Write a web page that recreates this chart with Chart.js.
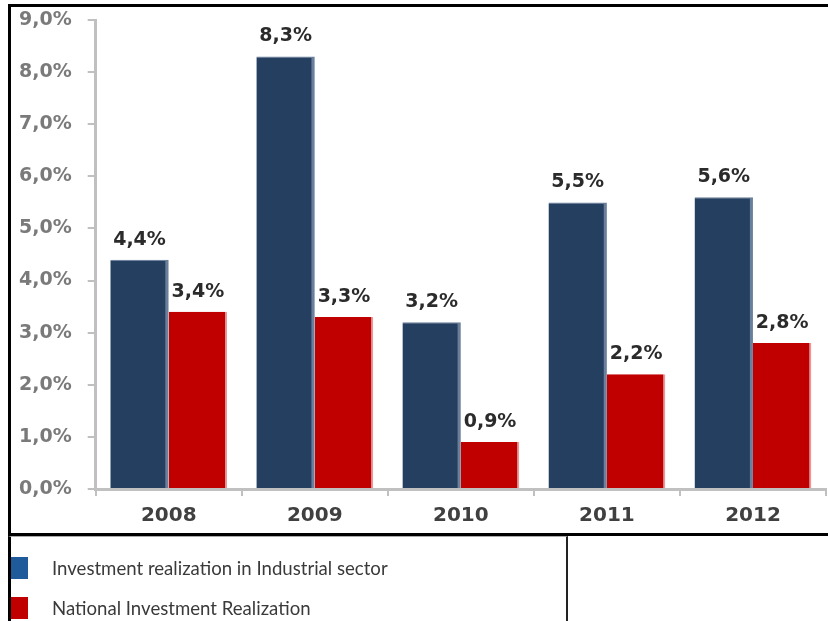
<!DOCTYPE html>
<html>
<head>
<meta charset="utf-8">
<script src="https://cdn.jsdelivr.net/npm/chart.js"></script>
<style>
  html, body { margin: 0; padding: 0; background: #fff; overflow: hidden; }
  body { width: 828px; height: 621px; position: relative; }
  #frame {
    position: absolute; left: 8px; top: 4px; width: 840px; height: 526px;
    border: 3px solid #000; border-right: none;
  }
  #chart { position: absolute; left: 0; top: 0; }
  #legend {
    position: absolute; left: 8px; top: 536px; width: 555px; height: 90px;
    border-left: 3px solid #000; border-right: 2px solid #222; border-top: 1px solid #aaa;
  }
  .item { position: absolute; left: 0; height: 24px; }
  .swatch { position: absolute; left: 0; top: 1px; width: 17px; height: 22px; }
  .text {
    position: absolute; left: 41px; top: 0; line-height: 24px; white-space: nowrap;
    font-family: Lato, sans-serif; font-size: 18.6px; color: #3a3a3a;
  }
</style>
</head>
<body>
<div id="frame"></div>
<canvas id="chart" width="828" height="540"></canvas>
<div id="legend"></div>
<script>
const years = ["2008", "2009", "2010", "2011", "2012"]
const industryValues = [4.4, 8.3, 3.2, 5.5, 5.6]
const nationalValues = [3.4, 3.3, 0.9, 2.2, 2.8]
const seriesNames = ["Investment realization in Industrial sector", "National Investment Realization"]
const yMin = 0, yMax = 9, yStep = 1

const pct = v => v.toFixed(1).replace(".", ",") + "%"

// value labels above each bar
const barLabels = {
    id: "barLabels",
    afterDatasetsDraw(chart) {
        const ctx = chart.ctx
        ctx.save()
        ctx.font = "bold 19px 'DejaVu Sans'"
        ctx.fillStyle = "#2b2b2b"
        ctx.textAlign = "center"
        ctx.textBaseline = "middle"
        chart.data.datasets.forEach((ds, i) => {
            chart.getDatasetMeta(i).data.forEach((bar, j) => {
                ctx.fillText(pct(ds.data[j]), bar.x, bar.y - 20)
            })
        })
        ctx.restore()
    }
}

const data = {
    labels: years,
    datasets: [
        {
            label: seriesNames[0],
            data: industryValues,
            backgroundColor: "#243f60",
            borderColor: "#6a7f9b",
            borderWidth: {top: 1, right: 3, left: 0, bottom: 0},
            borderSkipped: false,
            legendColor: "#1f5a9a"
        },
        {
            label: seriesNames[1],
            data: nationalValues,
            backgroundColor: "#c00000",
            borderColor: "#e59a9a",
            borderWidth: {top: 0, right: 2, left: 0, bottom: 0},
            borderSkipped: false,
            legendColor: "#c00000"
        }
    ]
}

const config = {
    type: "bar",
    data: data,
    options: {
        animation: false,
        responsive: false,
        layout: {padding: {left: 3, top: 20, right: 2, bottom: 4}},
        datasets: {bar: {categoryPercentage: 0.8, barPercentage: 1.0}},
        plugins: {
            legend: {display: false},
            tooltip: {enabled: false}
        },
        scales: {
            x: {
                grid: {display: true, drawOnChartArea: false, color: "#c0c0c0", lineWidth: 2, tickLength: 7},
                border: {color: "#c0c0c0", width: 3},
                ticks: {
                    color: "#404040",
                    padding: 8,
                    font: {family: "'DejaVu Sans'", size: 20, weight: "bold"}
                }
            },
            y: {
                min: yMin,
                max: yMax,
                grid: {display: true, drawOnChartArea: false, color: "#c0c0c0", lineWidth: 2, tickLength: 8},
                border: {color: "#c0c0c0", width: 3},
                ticks: {
                    stepSize: yStep,
                    color: "#7a7a7a",
                    padding: 16,
                    font: {family: "'DejaVu Sans'", size: 19, weight: "bold"},
                    callback: v => pct(v)
                },
                // keep the wide label gap without pushing the plot top down
                afterFit: scale => { scale.paddingTop = 0 }
            }
        }
    },
    plugins: [barLabels]
}

const chart = new Chart(document.getElementById("chart").getContext("2d"), config)

// legend table rows built from the datasets
const rowTops = [19, 59]
const legend = document.getElementById("legend")
chart.data.datasets.forEach((ds, i) => {
    legend.insertAdjacentHTML("beforeend", `
        <div class="item" style="top: ${rowTops[i]}px">
            <div class="swatch" style="background: ${ds.legendColor}"></div>
            <div class="text">${ds.label}</div>
        </div>
    `)
})
</script>
</body>
</html>
